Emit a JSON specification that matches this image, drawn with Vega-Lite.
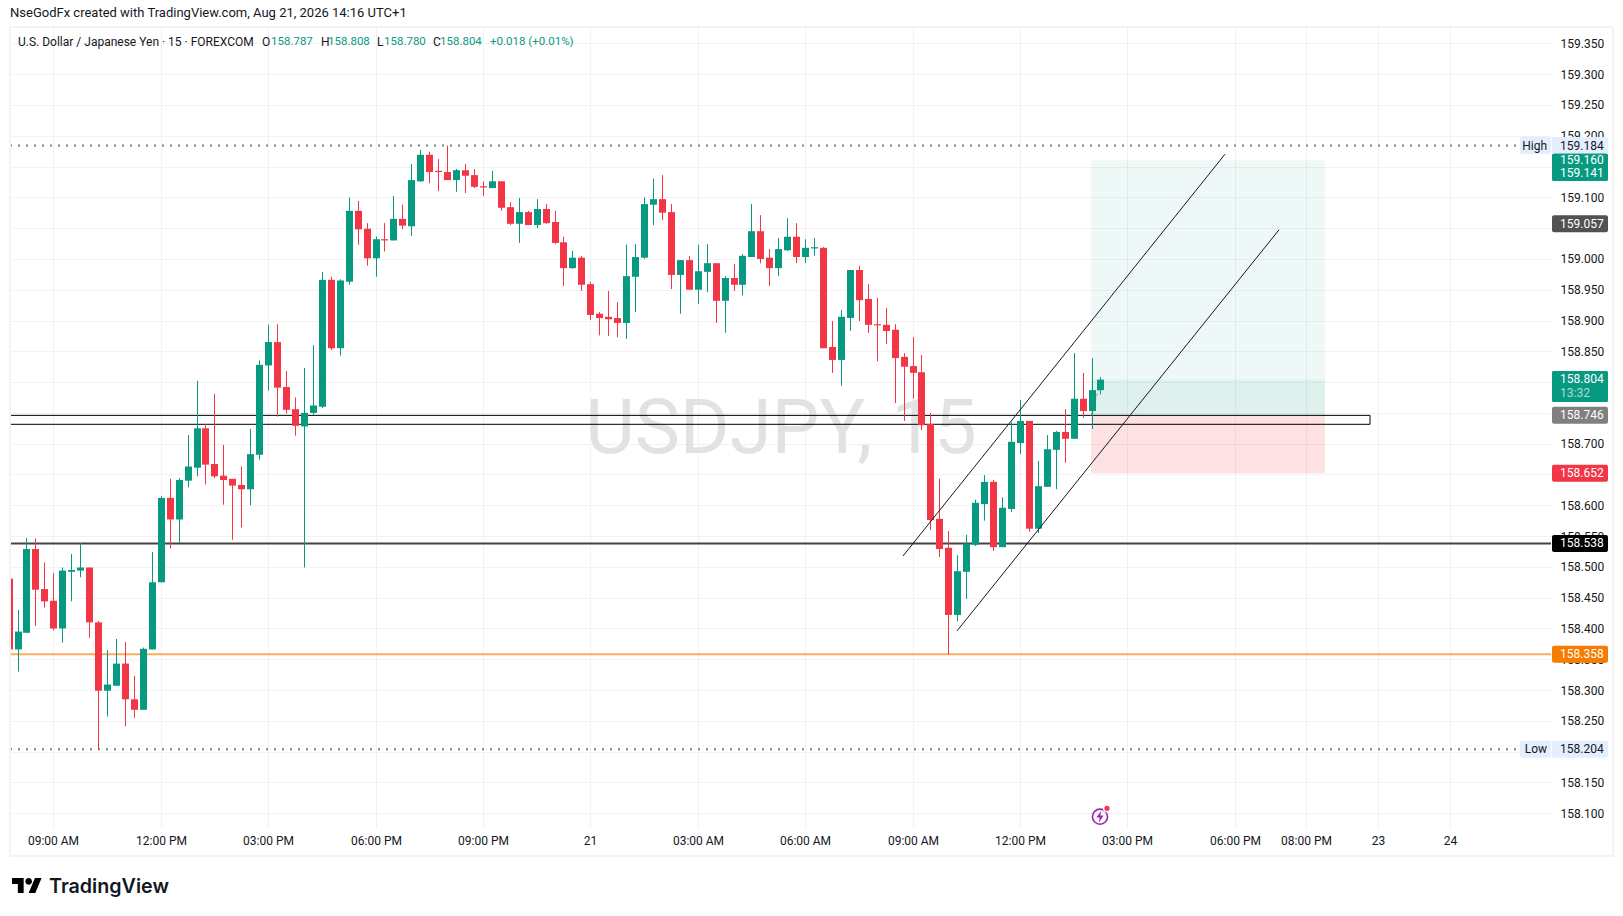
{
  "$schema": "https://vega.github.io/schema/vega-lite/v6.json",
  "width": 1541,
  "height": 801,
  "autosize": "none",
  "padding": {"left": 10, "top": 27, "right": 72, "bottom": 88},
  "background": "white",
  "title": {"text": "NseGodFx created with TradingView.com, Aug 21, 2026 14:16 UTC+1", "anchor": "start", "frame": "group", "offset": 6, "font": "Roboto", "fontSize": 13, "fontWeight": "normal", "color": "#131722"},
  "config": {"view": {"stroke": null}, "text": {"font": "Roboto"}, "axis": {"labelFont": "Roboto"}},
  "datasets": {
    "candles": [
      {"t":-5,"o":158.481,"h":158.481,"l":158.366,"c":158.366},
      {"t":-4,"o":158.366,"h":158.430,"l":158.330,"c":158.395},
      {"t":-3,"o":158.393,"h":158.547,"l":158.393,"c":158.529},
      {"t":-2,"o":158.529,"h":158.546,"l":158.404,"c":158.463},
      {"t":-1,"o":158.464,"h":158.507,"l":158.434,"c":158.444},
      {"t":0,"o":158.445,"h":158.490,"l":158.397,"c":158.400},
      {"t":1,"o":158.400,"h":158.499,"l":158.377,"c":158.494},
      {"t":2,"o":158.492,"h":158.521,"l":158.444,"c":158.495},
      {"t":3,"o":158.494,"h":158.539,"l":158.483,"c":158.499},
      {"t":4,"o":158.499,"h":158.499,"l":158.385,"c":158.410},
      {"t":5,"o":158.410,"h":158.412,"l":158.204,"c":158.299},
      {"t":6,"o":158.299,"h":158.365,"l":158.257,"c":158.309},
      {"t":7,"o":158.307,"h":158.383,"l":158.307,"c":158.343},
      {"t":8,"o":158.343,"h":158.378,"l":158.241,"c":158.285},
      {"t":9,"o":158.285,"h":158.323,"l":158.255,"c":158.268},
      {"t":10,"o":158.268,"h":158.369,"l":158.268,"c":158.367},
      {"t":11,"o":158.366,"h":158.524,"l":158.366,"c":158.475},
      {"t":12,"o":158.475,"h":158.615,"l":158.475,"c":158.612},
      {"t":13,"o":158.612,"h":158.643,"l":158.530,"c":158.577},
      {"t":14,"o":158.577,"h":158.644,"l":158.539,"c":158.641},
      {"t":15,"o":158.640,"h":158.714,"l":158.629,"c":158.663},
      {"t":16,"o":158.661,"h":158.802,"l":158.647,"c":158.725},
      {"t":17,"o":158.725,"h":158.732,"l":158.634,"c":158.666},
      {"t":18,"o":158.667,"h":158.781,"l":158.644,"c":158.647},
      {"t":19,"o":158.648,"h":158.698,"l":158.601,"c":158.641},
      {"t":20,"o":158.643,"h":158.643,"l":158.544,"c":158.632},
      {"t":21,"o":158.633,"h":158.663,"l":158.564,"c":158.626},
      {"t":22,"o":158.626,"h":158.724,"l":158.600,"c":158.683},
      {"t":23,"o":158.682,"h":158.835,"l":158.674,"c":158.828},
      {"t":24,"o":158.827,"h":158.893,"l":158.786,"c":158.865},
      {"t":25,"o":158.865,"h":158.894,"l":158.744,"c":158.791},
      {"t":26,"o":158.792,"h":158.818,"l":158.749,"c":158.755},
      {"t":27,"o":158.756,"h":158.775,"l":158.713,"c":158.729},
      {"t":28,"o":158.728,"h":158.823,"l":158.499,"c":158.750},
      {"t":29,"o":158.750,"h":158.860,"l":158.747,"c":158.762},
      {"t":30,"o":158.760,"h":158.979,"l":158.758,"c":158.966},
      {"t":31,"o":158.966,"h":158.971,"l":158.852,"c":158.855},
      {"t":32,"o":158.855,"h":158.967,"l":158.843,"c":158.965},
      {"t":33,"o":158.963,"h":159.100,"l":158.958,"c":159.078},
      {"t":34,"o":159.078,"h":159.094,"l":159.023,"c":159.048},
      {"t":35,"o":159.049,"h":159.058,"l":158.989,"c":159.001},
      {"t":36,"o":159.001,"h":159.036,"l":158.971,"c":159.032},
      {"t":37,"o":159.032,"h":159.058,"l":159.012,"c":159.030},
      {"t":38,"o":159.030,"h":159.102,"l":159.030,"c":159.065},
      {"t":39,"o":159.065,"h":159.088,"l":159.048,"c":159.054},
      {"t":40,"o":159.053,"h":159.154,"l":159.037,"c":159.128},
      {"t":41,"o":159.126,"h":159.177,"l":159.125,"c":159.169},
      {"t":42,"o":159.169,"h":159.174,"l":159.123,"c":159.141},
      {"t":43,"o":159.143,"h":159.162,"l":159.110,"c":159.141},
      {"t":44,"o":159.141,"h":159.184,"l":159.128,"c":159.128},
      {"t":45,"o":159.128,"h":159.146,"l":159.109,"c":159.144},
      {"t":46,"o":159.144,"h":159.154,"l":159.107,"c":159.135},
      {"t":47,"o":159.136,"h":159.146,"l":159.115,"c":159.117},
      {"t":48,"o":159.118,"h":159.126,"l":159.102,"c":159.116},
      {"t":49,"o":159.115,"h":159.143,"l":159.115,"c":159.126},
      {"t":50,"o":159.126,"h":159.126,"l":159.078,"c":159.083},
      {"t":51,"o":159.084,"h":159.092,"l":159.055,"c":159.057},
      {"t":52,"o":159.057,"h":159.099,"l":159.026,"c":159.076},
      {"t":53,"o":159.076,"h":159.078,"l":159.055,"c":159.055},
      {"t":54,"o":159.055,"h":159.097,"l":159.050,"c":159.081},
      {"t":55,"o":159.081,"h":159.089,"l":159.057,"c":159.058},
      {"t":56,"o":159.060,"h":159.078,"l":159.024,"c":159.026},
      {"t":57,"o":159.027,"h":159.036,"l":158.956,"c":158.985},
      {"t":58,"o":158.985,"h":159.013,"l":158.984,"c":159.002},
      {"t":59,"o":159.002,"h":159.005,"l":158.948,"c":158.958},
      {"t":60,"o":158.959,"h":158.963,"l":158.901,"c":158.909},
      {"t":61,"o":158.911,"h":158.914,"l":158.876,"c":158.904},
      {"t":62,"o":158.906,"h":158.948,"l":158.875,"c":158.902},
      {"t":63,"o":158.904,"h":158.930,"l":158.873,"c":158.896},
      {"t":64,"o":158.896,"h":159.023,"l":158.870,"c":158.972},
      {"t":65,"o":158.971,"h":159.024,"l":158.914,"c":159.003},
      {"t":66,"o":159.002,"h":159.100,"l":159.000,"c":159.089},
      {"t":67,"o":159.088,"h":159.130,"l":159.055,"c":159.097},
      {"t":68,"o":159.097,"h":159.136,"l":159.063,"c":159.075},
      {"t":69,"o":159.076,"h":159.089,"l":158.951,"c":158.974},
      {"t":70,"o":158.974,"h":158.998,"l":158.911,"c":158.998},
      {"t":71,"o":158.998,"h":159.005,"l":158.950,"c":158.950},
      {"t":72,"o":158.950,"h":159.023,"l":158.927,"c":158.980},
      {"t":73,"o":158.979,"h":159.024,"l":158.946,"c":158.993},
      {"t":74,"o":158.993,"h":158.993,"l":158.896,"c":158.932},
      {"t":75,"o":158.932,"h":158.972,"l":158.880,"c":158.969},
      {"t":76,"o":158.969,"h":158.992,"l":158.948,"c":158.958},
      {"t":77,"o":158.958,"h":159.008,"l":158.941,"c":159.005},
      {"t":78,"o":159.003,"h":159.089,"l":159.003,"c":159.045},
      {"t":79,"o":159.045,"h":159.071,"l":158.993,"c":159.000},
      {"t":80,"o":159.002,"h":159.016,"l":158.956,"c":158.985},
      {"t":81,"o":158.985,"h":159.034,"l":158.972,"c":159.016},
      {"t":82,"o":159.014,"h":159.066,"l":159.013,"c":159.036},
      {"t":83,"o":159.036,"h":159.058,"l":158.993,"c":159.003},
      {"t":84,"o":159.003,"h":159.032,"l":158.993,"c":159.018},
      {"t":85,"o":159.017,"h":159.034,"l":159.005,"c":159.019},
      {"t":86,"o":159.018,"h":159.019,"l":158.855,"c":158.855},
      {"t":87,"o":158.857,"h":158.899,"l":158.815,"c":158.836},
      {"t":88,"o":158.836,"h":158.917,"l":158.794,"c":158.906},
      {"t":89,"o":158.904,"h":158.982,"l":158.883,"c":158.982},
      {"t":90,"o":158.982,"h":158.989,"l":158.899,"c":158.933},
      {"t":91,"o":158.935,"h":158.959,"l":158.880,"c":158.893},
      {"t":92,"o":158.894,"h":158.937,"l":158.834,"c":158.892},
      {"t":93,"o":158.893,"h":158.920,"l":158.862,"c":158.883},
      {"t":94,"o":158.885,"h":158.894,"l":158.766,"c":158.839},
      {"t":95,"o":158.841,"h":158.847,"l":158.737,"c":158.825},
      {"t":96,"o":158.826,"h":158.873,"l":158.773,"c":158.815},
      {"t":97,"o":158.816,"h":158.844,"l":158.722,"c":158.730},
      {"t":98,"o":158.732,"h":158.750,"l":158.560,"c":158.576},
      {"t":99,"o":158.578,"h":158.643,"l":158.516,"c":158.529},
      {"t":100,"o":158.531,"h":158.558,"l":158.358,"c":158.422},
      {"t":101,"o":158.422,"h":158.519,"l":158.412,"c":158.493},
      {"t":102,"o":158.492,"h":158.552,"l":158.448,"c":158.538},
      {"t":103,"o":158.536,"h":158.609,"l":158.534,"c":158.604},
      {"t":104,"o":158.602,"h":158.649,"l":158.575,"c":158.638},
      {"t":105,"o":158.638,"h":158.641,"l":158.526,"c":158.532},
      {"t":106,"o":158.532,"h":158.613,"l":158.532,"c":158.596},
      {"t":107,"o":158.594,"h":158.735,"l":158.589,"c":158.703},
      {"t":108,"o":158.701,"h":158.771,"l":158.683,"c":158.737},
      {"t":109,"o":158.737,"h":158.737,"l":158.557,"c":158.562},
      {"t":110,"o":158.562,"h":158.672,"l":158.555,"c":158.631},
      {"t":111,"o":158.630,"h":158.714,"l":158.630,"c":158.691},
      {"t":112,"o":158.690,"h":158.721,"l":158.626,"c":158.719},
      {"t":113,"o":158.719,"h":158.756,"l":158.669,"c":158.708},
      {"t":114,"o":158.708,"h":158.847,"l":158.708,"c":158.773},
      {"t":115,"o":158.773,"h":158.815,"l":158.742,"c":158.753},
      {"t":116,"o":158.753,"h":158.839,"l":158.724,"c":158.787},
      {"t":117,"o":158.787,"h":158.808,"l":158.780,"c":158.804}
    ],
    "badges": [
      {"label":"159.184","price":159.184,"top":159.1978,"bot":159.1702,"kind":"extreme"},
      {"label":"159.160","price":159.160,"top":159.1708,"bot":159.1265,"kind":"target"},
      {"label":"159.141","price":159.140,"top":159.1708,"bot":159.1265,"kind":"target"},
      {"label":"159.057","price":159.057,"top":159.0708,"bot":159.0432,"kind":"last"},
      {"label":"158.804","price":158.805,"top":158.8180,"bot":158.7677,"kind":"target"},
      {"label":"13:32","price":158.782,"top":158.8180,"bot":158.7677,"kind":"clock"},
      {"label":"158.746","price":158.746,"top":158.7598,"bot":158.7322,"kind":"entry"},
      {"label":"158.652","price":158.652,"top":158.6658,"bot":158.6382,"kind":"stop"},
      {"label":"158.538","price":158.538,"top":158.5518,"bot":158.5242,"kind":"support"},
      {"label":"158.358","price":158.358,"top":158.3718,"bot":158.3442,"kind":"floor"},
      {"label":"158.204","price":158.204,"top":158.2178,"bot":158.1902,"kind":"extreme"}
    ]
  },
  "layer": [
    {
      "data": {"values": [{"label": "USDJPY, 15", "at": 81.3, "price": 158.722}]},
      "mark": {"type": "text", "fontSize": 76, "color": "#e2e2e2", "align": "center", "baseline": "middle"},
      "encoding": {
        "x": {
          "field": "at",
          "type": "quantitative",
          "scale": {"domain": [-4.838, 167.34], "nice": false, "zero": false, "round": true, "padding": 0},
          "axis": {
            "title": null,
            "orient": "bottom",
            "values": [0, 12, 24, 36, 48, 60, 72, 84, 96, 108, 120, 132, 140, 148, 156],
            "labelExpr": "{'0':'09:00 AM','12':'12:00 PM','24':'03:00 PM','36':'06:00 PM','48':'09:00 PM','60':'21','72':'03:00 AM','84':'06:00 AM','96':'09:00 AM','108':'12:00 PM','120':'03:00 PM','132':'06:00 PM','140':'08:00 PM','148':'23','156':'24'}[datum.value]",
            "grid": true,
            "gridColor": "#f2f2f3",
            "gridWidth": 1,
            "domain": false,
            "ticks": false,
            "labelFontSize": 12,
            "labelColor": "#131722",
            "labelPadding": 7,
            "labelOverlap": false,
            "labelFlush": false
          }
        },
        "y": {
          "field": "price",
          "type": "quantitative",
          "scale": {"domain": [158.0761, 159.3765], "nice": false, "zero": false},
          "axis": {
            "title": null,
            "orient": "right",
            "values": [158.1, 158.15, 158.2, 158.25, 158.3, 158.35, 158.4, 158.45, 158.5, 158.55, 158.6, 158.65, 158.7, 158.75, 158.8, 158.85, 158.9, 158.95, 159, 159.05, 159.1, 159.15, 159.2, 159.25, 159.3, 159.35],
            "labelExpr": "indexof(['159.050','159.150','158.650','158.750','158.800'], format(datum.value,'.3f'))>=0 ? '' : format(datum.value,'.3f')",
            "grid": true,
            "gridColor": "#f2f2f3",
            "gridWidth": 1,
            "domain": false,
            "ticks": false,
            "labelFontSize": 12,
            "labelColor": "#131722",
            "labelPadding": 9,
            "labelOverlap": false,
            "labelFlush": false
          }
        },
        "text": {"field": "label"}
      }
    },
    {
      "data": {"values": [
        {"zone": "target", "from": 115.94, "to": 142.08, "top": 159.160, "bot": 158.746},
        {"zone": "open", "from": 115.94, "to": 142.08, "top": 158.804, "bot": 158.746}
      ]},
      "mark": {"type": "rect", "color": "#089981", "opacity": 0.07},
      "encoding": {
        "x": {"field": "from", "type": "quantitative", "axis": null},
        "x2": {"field": "to"},
        "y": {"field": "top", "type": "quantitative", "axis": null},
        "y2": {"field": "bot"}
      }
    },
    {
      "data": {"values": [
        {"zone": "stop", "from": 115.94, "to": 142.08, "top": 158.746, "bot": 158.652}
      ]},
      "mark": {"type": "rect", "color": "#f23645", "opacity": 0.15},
      "encoding": {
        "x": {"field": "from", "type": "quantitative", "axis": null},
        "x2": {"field": "to"},
        "y": {"field": "top", "type": "quantitative", "axis": null},
        "y2": {"field": "bot"}
      }
    },
    {
      "data": {"values": [{"hi": 158.746, "lo": 158.7315}]},
      "mark": {"type": "rect", "fillOpacity": 0, "stroke": "#000000", "strokeWidth": 1, "clip": true},
      "encoding": {
        "x": {"datum": -8, "type": "quantitative", "axis": null},
        "x2": {"datum": 147.08},
        "y": {"field": "hi", "type": "quantitative", "axis": null},
        "y2": {"field": "lo"}
      }
    },
    {
      "data": {"values": [{"price": 158.538}]},
      "mark": {"type": "rule", "color": "#434343", "strokeWidth": 2},
      "encoding": {"y": {"field": "price", "type": "quantitative", "axis": null}}
    },
    {
      "data": {"values": [{"price": 158.358}]},
      "mark": {"type": "rule", "color": "#fbab5e", "strokeWidth": 2},
      "encoding": {"y": {"field": "price", "type": "quantitative", "axis": null}}
    },
    {
      "data": {"values": [{"price": 159.184}, {"price": 158.204}]},
      "mark": {"type": "rule", "color": "#808080", "strokeWidth": 2, "strokeDash": [2, 6]},
      "encoding": {
        "x": {"datum": -4.838, "type": "quantitative", "axis": null},
        "x2": {"datum": 163.5},
        "y": {"field": "price", "type": "quantitative", "axis": null}
      }
    },
    {
      "data": {"values": [
        {"t": 115.94, "price": 158.746},
        {"t": 117, "price": 158.796},
        {"t": 117.4, "price": 158.804}
      ]},
      "mark": {"type": "line", "color": "#9598a1", "strokeWidth": 1, "strokeDash": [3, 2]},
      "encoding": {
        "x": {"field": "t", "type": "quantitative", "axis": null},
        "y": {"field": "price", "type": "quantitative", "axis": null}
      }
    },
    {
      "data": {"name": "candles"},
      "mark": {"type": "rule", "strokeWidth": 1, "xOffset": 0.5, "clip": true},
      "encoding": {
        "x": {"field": "t", "type": "quantitative", "axis": null},
        "y": {"field": "l", "type": "quantitative", "axis": null},
        "y2": {"field": "h"},
        "color": {"condition": {"test": "datum.c>=datum.o", "value": "#089981"}, "value": "#f23645"}
      }
    },
    {
      "data": {"name": "candles"},
      "mark": {"type": "bar", "width": 7, "xOffset": 0.5, "clip": true},
      "encoding": {
        "x": {"field": "t", "type": "quantitative", "axis": null},
        "y": {"field": "o", "type": "quantitative", "axis": null},
        "y2": {"field": "c"},
        "color": {"condition": {"test": "datum.c>=datum.o", "value": "#089981"}, "value": "#f23645"}
      }
    },
    {
      "data": {"values": [
        {"line": "upper", "t": 94.97, "price": 158.5177},
        {"line": "upper", "t": 130.97, "price": 159.170},
        {"line": "lower", "t": 101.01, "price": 158.396},
        {"line": "lower", "t": 136.99, "price": 159.0472}
      ]},
      "mark": {"type": "line", "color": "#131722", "strokeWidth": 1},
      "encoding": {
        "x": {"field": "t", "type": "quantitative", "axis": null},
        "y": {"field": "price", "type": "quantitative", "axis": null},
        "detail": {"field": "line"}
      }
    },
    {
      "data": {"values": [{"a": 1}]},
      "mark": {"type": "rect", "fillOpacity": 0, "stroke": "#f3f3f3", "strokeWidth": 2},
      "encoding": {
        "x": {"datum": -4.838, "type": "quantitative", "axis": null},
        "x2": {"datum": 174.27},
        "y": {"datum": 159.3765, "type": "quantitative", "axis": null},
        "y2": {"datum": 158.0306}
      }
    },
    {
      "data": {"name": "badges"},
      "mark": {"type": "rect", "cornerRadius": 2},
      "encoding": {
        "x": {"datum": 167.43, "type": "quantitative", "axis": null},
        "x2": {"datum": 173.68},
        "y": {"field": "top", "type": "quantitative", "axis": null},
        "y2": {"field": "bot"},
        "color": {"field": "kind", "type": "nominal", "legend": null, "scale": {"domain": ["extreme", "target", "clock", "last", "entry", "stop", "support", "floor"], "range": ["#e3effd", "#089981", "#089981", "#525252", "#808080", "#f23645", "#000000", "#f57c00"]}}
      }
    },
    {
      "data": {"name": "badges"},
      "mark": {"type": "text", "align": "left", "baseline": "middle", "fontSize": 12},
      "encoding": {
        "x": {"datum": 168.346, "type": "quantitative", "axis": null},
        "y": {"field": "price", "type": "quantitative", "axis": null},
        "text": {"field": "label"},
        "color": {"condition": [{"test": "datum.kind==='extreme'", "value": "#131722"}, {"test": "datum.kind==='clock'", "value": "#a8dcd2"}], "value": "#ffffff"}
      }
    },
    {
      "data": {"values": [{"label": "High", "top": 159.1978, "bot": 159.1702, "price": 159.184}, {"label": "Low", "top": 158.2178, "bot": 158.1902, "price": 158.204}]},
      "mark": {"type": "rect", "cornerRadius": 2, "color": "#e3effd"},
      "encoding": {
        "x": {"datum": 163.9, "type": "quantitative", "axis": null},
        "x2": {"datum": 167.33},
        "y": {"field": "top", "type": "quantitative", "axis": null},
        "y2": {"field": "bot"}
      }
    },
    {
      "data": {"values": [{"label": "High", "price": 159.184}, {"label": "Low", "price": 158.204}]},
      "mark": {"type": "text", "align": "right", "baseline": "middle", "fontSize": 12, "color": "#131722"},
      "encoding": {
        "x": {"datum": 166.9, "type": "quantitative", "axis": null},
        "y": {"field": "price", "type": "quantitative", "axis": null},
        "text": {"field": "label"}
      }
    },
    {
      "data": {"values": [
        {"label": "U.S. Dollar / Japanese Yen · 15 · FOREXCOM", "at": -3.90, "part": "name"},
        {"label": "O", "at": 23.37, "part": "name"},
        {"label": "158.787", "at": 24.28, "part": "value"},
        {"label": "H", "at": 29.88, "part": "name"},
        {"label": "158.808", "at": 30.69, "part": "value"},
        {"label": "L", "at": 36.17, "part": "name"},
        {"label": "158.780", "at": 36.95, "part": "value"},
        {"label": "C", "at": 42.43, "part": "name"},
        {"label": "158.804", "at": 43.26, "part": "value"},
        {"label": "+0.018 (+0.01%)", "at": 48.8, "part": "value"}
      ]},
      "mark": {"type": "text", "align": "left", "baseline": "middle"},
      "encoding": {
        "x": {"field": "at", "type": "quantitative", "axis": null},
        "y": {"datum": 159.3521, "type": "quantitative", "axis": null},
        "text": {"field": "label"},
        "size": {"condition": {"test": "datum.part==='value'", "value": 11.5}, "value": 12},
        "color": {"condition": {"test": "datum.part==='value'", "value": "#089981"}, "value": "#131722"}
      }
    },
    {
      "data": {"values": [{"a": 1}]},
      "mark": {"type": "point", "filled": true, "opacity": 1, "color": "#000000", "size": 900, "shape": "M-.222 .5H-.611V-.111H-1V-.5H-.222ZM.556 .5H.111L.528 -.5H.972ZM-.111 -.278A.222 .222 0 1 0 .333 -.278A.222 .222 0 1 0 -.111 -.278Z"},
      "encoding": {
        "x": {"datum": -2.94, "type": "quantitative", "axis": null},
        "y": {"datum": 157.9826, "type": "quantitative", "axis": null}
      }
    },
    {
      "data": {"values": [{"label": "TradingView"}]},
      "mark": {"type": "text", "font": "Inter", "fontWeight": 600, "fontSize": 19.7, "color": "#131722", "align": "left", "baseline": "middle"},
      "encoding": {
        "x": {"datum": -0.48, "type": "quantitative", "axis": null},
        "y": {"datum": 157.981, "type": "quantitative", "axis": null},
        "text": {"field": "label"}
      }
    },
    {
      "data": {"values": [{"a": 1}]},
      "mark": {"type": "point", "filled": false, "opacity": 1, "color": "#9c27b0", "strokeWidth": 1.6, "size": 227, "shape": "circle"},
      "encoding": {
        "x": {"datum": 116.98, "type": "quantitative", "axis": null},
        "y": {"datum": 158.0945, "type": "quantitative", "axis": null}
      }
    },
    {
      "data": {"values": [{"a": 1}]},
      "mark": {"type": "point", "filled": true, "opacity": 1, "color": "#9c27b0", "size": 144, "shape": "M.2 -1L-.6 .15H-.05L-.2 1L.6 -.2H.05Z"},
      "encoding": {
        "x": {"datum": 116.98, "type": "quantitative", "axis": null},
        "y": {"datum": 158.0945, "type": "quantitative", "axis": null}
      }
    },
    {
      "data": {"values": [{"a": 1}]},
      "mark": {"type": "point", "filled": true, "opacity": 1, "color": "#f23645", "stroke": "#ffffff", "strokeWidth": 1.5, "size": 45, "shape": "circle"},
      "encoding": {
        "x": {"datum": 117.77, "type": "quantitative", "axis": null},
        "y": {"datum": 158.108, "type": "quantitative", "axis": null}
      }
    }
  ],
  "resolve": {"scale": {"color": "independent"}, "axis": {"x": "independent", "y": "independent"}}
}
